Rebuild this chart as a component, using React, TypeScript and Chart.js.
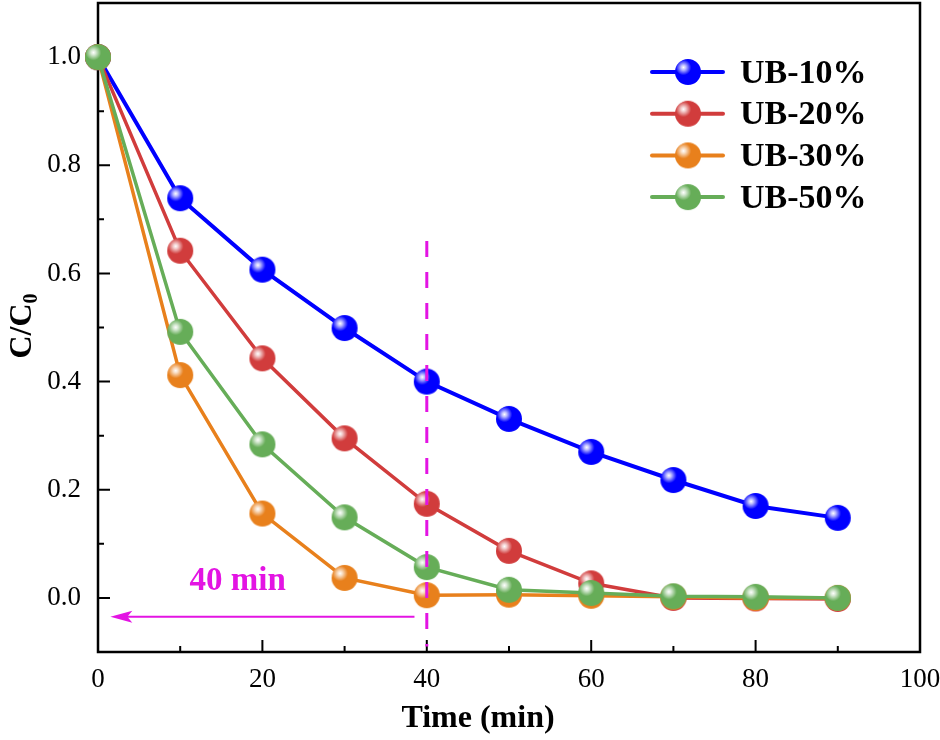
import React from 'react';
import { Chart, registerables } from 'chart.js';
Chart.register(...registerables);

// data
const timeMin = [0, 10, 20, 30, 40, 50, 60, 70, 80, 90];
const ub10 = [1.0, 0.739, 0.607, 0.499, 0.4, 0.331, 0.27, 0.218, 0.17, 0.148];
const ub20 = [1.0, 0.642, 0.443, 0.295, 0.174, 0.087, 0.027, 0.0, -0.001, -0.002];
const ub30 = [1.0, 0.412, 0.156, 0.037, 0.005, 0.006, 0.004, 0.002, 0.0, 0.0];
const ub50 = [1.0, 0.492, 0.284, 0.149, 0.057, 0.015, 0.009, 0.003, 0.002, 0.0];
const seriesNames = ['UB-10%', 'UB-20%', 'UB-30%', 'UB-50%'];
const seriesColors = ['#0000ff', '#d13c3c', '#e8801c', '#66ad58'];

const xTicks = [0, 20, 40, 60, 80, 100];
const xMinorTicks = [10, 30, 50, 70, 90];
const yTicks = [0.0, 0.2, 0.4, 0.6, 0.8, 1.0];
const yMinorTicks = [-0.1, 0.1, 0.3, 0.5, 0.7, 0.9];

// annotation: the 40 min mark
const markTime = 40;
const markLineRange = [-0.09, 0.66];
const arrowY = -0.035;
const arrowFrom = 38.5;
const arrowTo = 1.5;
const markLabel = '40 min';
const markLabelPos = [17, 0.03];

const SERIF = "'Liberation Serif', 'Times New Roman', serif";
const MAGENTA = '#e314e3';
const R = 13;
const PLOT_TOP = 3;

const makeBall = (color) => {
  const c = document.createElement('canvas');
  const s = R * 2 + 2;
  c.width = s;
  c.height = s;
  const g = c.getContext('2d');
  const m = s / 2;
  g.beginPath();
  g.arc(m, m, R, 0, Math.PI * 2);
  g.fillStyle = color;
  g.fill();
  const hx = m - R * 0.35;
  const hy = m - R * 0.35;
  const grad = g.createRadialGradient(hx, hy, 0, hx, hy, R * 0.6);
  grad.addColorStop(0, 'rgba(255,255,255,1)');
  grad.addColorStop(0.3, 'rgba(255,255,255,0.75)');
  grad.addColorStop(1, 'rgba(255,255,255,0)');
  g.beginPath();
  g.arc(m, m, R, 0, Math.PI * 2);
  g.fillStyle = grad;
  g.fill();
  return c;
};

const framePlugin = {
  id: 'frame',
  afterLayout(chart) {
    // pin the top of the plot box
    const a = chart.chartArea;
    a.top = PLOT_TOP;
    a.height = a.bottom - a.top;
    const ys = chart.scales.y;
    ys.top = PLOT_TOP;
    ys.height = ys.bottom - ys.top;
    ys.configure();
  },
  beforeDatasetsDraw(chart) {
    const { ctx, chartArea: a, scales } = chart;
    ctx.save();
    ctx.strokeStyle = '#000';
    ctx.lineWidth = 2.5;
    ctx.strokeRect(a.left, a.top, a.right - a.left, a.bottom - a.top);
    ctx.lineWidth = 2;
    ctx.beginPath();
    xTicks.forEach((v) => {
      const x = scales.x.getPixelForValue(v);
      ctx.moveTo(x, a.bottom); ctx.lineTo(x, a.bottom - 12);
    });
    xMinorTicks.forEach((v) => {
      const x = scales.x.getPixelForValue(v);
      ctx.moveTo(x, a.bottom); ctx.lineTo(x, a.bottom - 6);
    });
    yTicks.forEach((v) => {
      const y = scales.y.getPixelForValue(v);
      ctx.moveTo(a.left, y); ctx.lineTo(a.left + 12, y);
    });
    yMinorTicks.forEach((v) => {
      const y = scales.y.getPixelForValue(v);
      ctx.moveTo(a.left, y); ctx.lineTo(a.left + 6, y);
    });
    ctx.stroke();

    // axis titles
    ctx.fillStyle = '#000';
    ctx.font = `bold 32px ${SERIF}`;
    ctx.textAlign = 'center';
    ctx.textBaseline = 'alphabetic';
    ctx.fillText('Time (min)', 478, 727);

    ctx.translate(31, 326);
    ctx.rotate(-Math.PI / 2);
    const main = 'C/C';
    const sub = '0';
    const wMain = ctx.measureText(main).width;
    ctx.font = `bold 20px ${SERIF}`;
    const wSub = ctx.measureText(sub).width;
    const start = -(wMain + wSub) / 2;
    ctx.textAlign = 'left';
    ctx.font = `bold 32px ${SERIF}`;
    ctx.fillText(main, start, 0);
    ctx.font = `bold 20px ${SERIF}`;
    ctx.fillText(sub, start + wMain, 6);
    ctx.restore();
  },
  afterDatasetsDraw(chart) {
    const { ctx, scales } = chart;
    const xs = scales.x;
    const ys = scales.y;
    ctx.save();
    ctx.strokeStyle = MAGENTA;
    ctx.fillStyle = MAGENTA;
    // dashed vertical line
    ctx.lineWidth = 3;
    ctx.setLineDash([16, 15]);
    ctx.beginPath();
    const mx = xs.getPixelForValue(markTime);
    ctx.moveTo(mx, ys.getPixelForValue(markLineRange[1]));
    ctx.lineTo(mx, ys.getPixelForValue(markLineRange[0]));
    ctx.stroke();
    ctx.setLineDash([]);
    // arrow
    const ay = ys.getPixelForValue(arrowY);
    const x1 = xs.getPixelForValue(arrowFrom);
    const x2 = xs.getPixelForValue(arrowTo);
    ctx.lineWidth = 2;
    ctx.beginPath();
    ctx.moveTo(x1, ay);
    ctx.lineTo(x2 + 10, ay);
    ctx.stroke();
    ctx.beginPath();
    ctx.moveTo(x2, ay);
    ctx.lineTo(x2 + 22, ay - 6);
    ctx.lineTo(x2 + 17, ay);
    ctx.lineTo(x2 + 22, ay + 6);
    ctx.closePath();
    ctx.fill();
    // label
    ctx.font = `bold 33px ${SERIF}`;
    ctx.textAlign = 'center';
    ctx.textBaseline = 'middle';
    ctx.fillText(markLabel, xs.getPixelForValue(markLabelPos[0]), ys.getPixelForValue(markLabelPos[1]));
    ctx.restore();
  },
  afterDraw(chart) {
    const { ctx } = chart;
    const balls = chart.$balls || [];
    ctx.save();
    seriesNames.forEach((name, i) => {
      const y = 72 + i * 41.7;
      ctx.strokeStyle = seriesColors[i];
      ctx.lineWidth = 4;
      ctx.lineCap = 'round';
      ctx.beginPath();
      ctx.moveTo(652, y);
      ctx.lineTo(723, y);
      ctx.stroke();
      const b = balls[i];
      if (b) ctx.drawImage(b, 688 - b.width / 2, y - b.height / 2);
      ctx.fillStyle = '#000';
      ctx.font = `bold 34px ${SERIF}`;
      ctx.textAlign = 'left';
      ctx.textBaseline = 'middle';
      ctx.fillText(name, 740, y + 2);
    });
    ctx.restore();
  },
};

const App = () => {
  const chartRef = React.useRef(null);
  const chartInstance = React.useRef(null);

  React.useEffect(() => {
    document.body.style.margin = '0';
    if (!chartRef.current) return;
    if (chartInstance.current) chartInstance.current.destroy();

    const balls = seriesColors.map(makeBall);
    const values = [ub10, ub20, ub30, ub50];

    chartInstance.current = new Chart(chartRef.current, {
      type: 'line',
      data: {
        datasets: values.map((vals, i) => ({
          label: seriesNames[i],
          data: timeMin.map((t, j) => ({ x: t, y: vals[j] })),
          borderColor: seriesColors[i],
          backgroundColor: seriesColors[i],
          borderWidth: i === 0 ? 4 : 3.5,
          pointStyle: balls[i],
          pointRadius: R,
          pointHoverRadius: R,
          tension: 0,
          clip: false,
          order: 3 - i,
        })),
      },
      options: {
        animation: false,
        responsive: false,
        devicePixelRatio: 1,
        events: [],
        layout: { padding: { top: 3, right: 20, left: 0, bottom: 0 } },
        plugins: {
          legend: { display: false },
          tooltip: { enabled: false },
        },
        scales: {
          x: {
            type: 'linear',
            min: 0,
            max: 100,
            grid: { display: false },
            border: { display: false },
            afterFit: (s) => {
              s.height = 88;
              s.paddingLeft = 0;
              s.paddingRight = 0;
            },
            afterBuildTicks: (s) => { s.ticks = xTicks.map((v) => ({ value: v })); },
            ticks: {
              padding: 4,
              color: '#000',
              maxRotation: 0,
              font: { family: SERIF, size: 27 },
              callback: (v) => String(v),
            },
          },
          y: {
            type: 'linear',
            min: -0.1,
            max: 1.1,
            grid: { display: false },
            border: { display: false },
            afterFit: (s) => {
              s.width = 98;
              s.paddingTop = 0;
              s.paddingBottom = 0;
            },
            afterBuildTicks: (s) => { s.ticks = yTicks.map((v) => ({ value: v })); },
            ticks: {
              padding: 9,
              color: '#000',
              font: { family: SERIF, size: 27 },
              callback: (v) => Number(v).toFixed(1),
            },
          },
        },
      },
      plugins: [framePlugin],
    });
    chartInstance.current.$balls = balls;
    chartInstance.current.draw();

    return () => {
      if (chartInstance.current) {
        chartInstance.current.destroy();
        chartInstance.current = null;
      }
    };
  }, []);

  return (
    <div style={{ width: 940, height: 740, background: '#fff' }}>
      <canvas ref={chartRef} width={940} height={740} />
    </div>
  );
};

export default App;
